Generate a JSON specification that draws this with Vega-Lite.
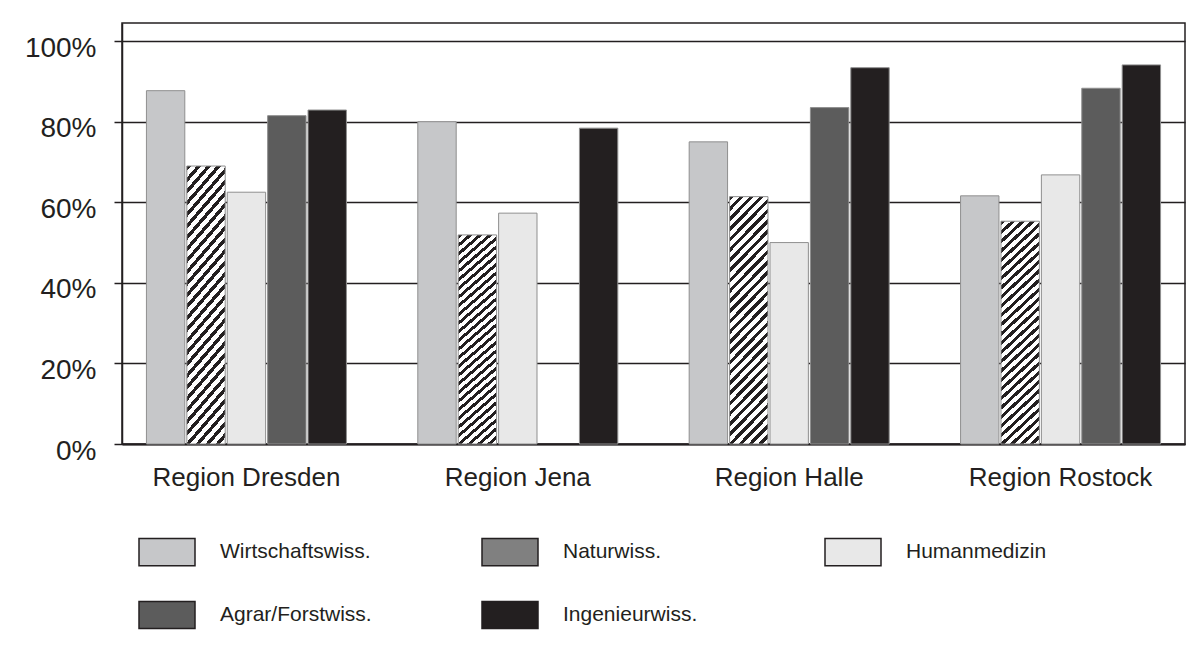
{
  "$schema": "https://vega.github.io/schema/vega-lite/v6.json",
  "width": 1063,
  "height": 421,
  "autosize": {"type": "none"},
  "padding": {"left": 122, "top": 23, "right": 19, "bottom": 213},
  "background": "#ffffff",
  "config": {
    "view": {"stroke": "#231f20", "strokeWidth": 1.5},
    "font": "Liberation Sans",
    "text": {"color": "#231f20"}
  },
  "data": {
    "values": [
      {"region": "Region Dresden", "fach": "Wirtschaftswiss.", "value": 87.7},
      {"region": "Region Dresden", "fach": "Naturwiss.", "value": 69.0},
      {"region": "Region Dresden", "fach": "Humanmedizin", "value": 62.5},
      {"region": "Region Dresden", "fach": "Agrar/Forstwiss.", "value": 81.5},
      {"region": "Region Dresden", "fach": "Ingenieurwiss.", "value": 82.9},
      {"region": "Region Jena", "fach": "Wirtschaftswiss.", "value": 80.0},
      {"region": "Region Jena", "fach": "Naturwiss.", "value": 51.9},
      {"region": "Region Jena", "fach": "Humanmedizin", "value": 57.3},
      {"region": "Region Jena", "fach": "Ingenieurwiss.", "value": 78.4},
      {"region": "Region Halle", "fach": "Wirtschaftswiss.", "value": 75.0},
      {"region": "Region Halle", "fach": "Naturwiss.", "value": 61.4},
      {"region": "Region Halle", "fach": "Humanmedizin", "value": 50.0},
      {"region": "Region Halle", "fach": "Agrar/Forstwiss.", "value": 83.5},
      {"region": "Region Halle", "fach": "Ingenieurwiss.", "value": 93.4},
      {"region": "Region Rostock", "fach": "Wirtschaftswiss.", "value": 61.6},
      {"region": "Region Rostock", "fach": "Naturwiss.", "value": 55.3},
      {"region": "Region Rostock", "fach": "Humanmedizin", "value": 66.8},
      {"region": "Region Rostock", "fach": "Agrar/Forstwiss.", "value": 88.3},
      {"region": "Region Rostock", "fach": "Ingenieurwiss.", "value": 94.1}
    ]
  },
  "mark": {"type": "bar", "stroke": "#8f8f8f", "strokeWidth": 1},
  "encoding": {
    "x": {
      "field": "region",
      "type": "nominal",
      "sort": ["Region Dresden", "Region Jena", "Region Halle", "Region Rostock"],
      "scale": {"paddingInner": 0.263, "paddingOuter": 0.09},
      "axis": {
        "title": null,
        "labelAngle": 0,
        "labelFontSize": 26,
        "labelLimit": 400,
        "labelColor": "#231f20",
        "labelPadding": 20,
        "ticks": false,
        "tickSize": 0,
        "domainColor": "#231f20",
        "domainWidth": 2
      }
    },
    "xOffset": {
      "field": "fach",
      "type": "nominal",
      "sort": ["Wirtschaftswiss.", "Naturwiss.", "Humanmedizin", "Agrar/Forstwiss.", "Ingenieurwiss."],
      "scale": {"paddingInner": 0.05, "paddingOuter": 0}
    },
    "y": {
      "field": "value",
      "type": "quantitative",
      "scale": {"domain": [0, 104.5], "nice": false},
      "axis": {
        "title": null,
        "values": [0, 20, 40, 60, 80, 100],
        "labelExpr": "datum.value + '%'",
        "labelFontSize": 28,
        "labelColor": "#231f20",
        "labelPadding": 18,
        "labelOffset": 7,
        "tickSize": 8,
        "tickColor": "#231f20",
        "tickWidth": 1.5,
        "gridColor": "#231f20",
        "gridWidth": 1.5,
        "gridOpacity": 1,
        "domainColor": "#231f20",
        "domainWidth": 1.5
      }
    },
    "fill": {
      "field": "fach",
      "type": "nominal",
      "scale": {
        "domain": ["Wirtschaftswiss.", "Naturwiss.", "Humanmedizin", "Agrar/Forstwiss.", "Ingenieurwiss."],
        "range": ["#c6c7c9", "#808080", "#e8e8e8", "#5c5c5c", "#231f20"]
      },
      "condition": {
        "test": "datum.fach === 'Naturwiss.'",
        "value": {
          "gradient": "linear",
          "x1": 0, "y1": 0, "x2": 0.181, "y2": 1.131,
          "stops": [
            {"offset": 0.0000, "color": "#231f20"}, {"offset": 0.0161, "color": "#231f20"}, {"offset": 0.0161, "color": "#ffffff"}, {"offset": 0.0357, "color": "#ffffff"},
            {"offset": 0.0357, "color": "#231f20"}, {"offset": 0.0518, "color": "#231f20"}, {"offset": 0.0518, "color": "#ffffff"}, {"offset": 0.0714, "color": "#ffffff"},
            {"offset": 0.0714, "color": "#231f20"}, {"offset": 0.0875, "color": "#231f20"}, {"offset": 0.0875, "color": "#ffffff"}, {"offset": 0.1071, "color": "#ffffff"},
            {"offset": 0.1071, "color": "#231f20"}, {"offset": 0.1232, "color": "#231f20"}, {"offset": 0.1232, "color": "#ffffff"}, {"offset": 0.1429, "color": "#ffffff"},
            {"offset": 0.1429, "color": "#231f20"}, {"offset": 0.1590, "color": "#231f20"}, {"offset": 0.1590, "color": "#ffffff"}, {"offset": 0.1786, "color": "#ffffff"},
            {"offset": 0.1786, "color": "#231f20"}, {"offset": 0.1947, "color": "#231f20"}, {"offset": 0.1947, "color": "#ffffff"}, {"offset": 0.2143, "color": "#ffffff"},
            {"offset": 0.2143, "color": "#231f20"}, {"offset": 0.2304, "color": "#231f20"}, {"offset": 0.2304, "color": "#ffffff"}, {"offset": 0.2500, "color": "#ffffff"},
            {"offset": 0.2500, "color": "#231f20"}, {"offset": 0.2661, "color": "#231f20"}, {"offset": 0.2661, "color": "#ffffff"}, {"offset": 0.2857, "color": "#ffffff"},
            {"offset": 0.2857, "color": "#231f20"}, {"offset": 0.3018, "color": "#231f20"}, {"offset": 0.3018, "color": "#ffffff"}, {"offset": 0.3214, "color": "#ffffff"},
            {"offset": 0.3214, "color": "#231f20"}, {"offset": 0.3375, "color": "#231f20"}, {"offset": 0.3375, "color": "#ffffff"}, {"offset": 0.3571, "color": "#ffffff"},
            {"offset": 0.3571, "color": "#231f20"}, {"offset": 0.3732, "color": "#231f20"}, {"offset": 0.3732, "color": "#ffffff"}, {"offset": 0.3929, "color": "#ffffff"},
            {"offset": 0.3929, "color": "#231f20"}, {"offset": 0.4090, "color": "#231f20"}, {"offset": 0.4090, "color": "#ffffff"}, {"offset": 0.4286, "color": "#ffffff"},
            {"offset": 0.4286, "color": "#231f20"}, {"offset": 0.4447, "color": "#231f20"}, {"offset": 0.4447, "color": "#ffffff"}, {"offset": 0.4643, "color": "#ffffff"},
            {"offset": 0.4643, "color": "#231f20"}, {"offset": 0.4804, "color": "#231f20"}, {"offset": 0.4804, "color": "#ffffff"}, {"offset": 0.5000, "color": "#ffffff"},
            {"offset": 0.5000, "color": "#231f20"}, {"offset": 0.5161, "color": "#231f20"}, {"offset": 0.5161, "color": "#ffffff"}, {"offset": 0.5357, "color": "#ffffff"},
            {"offset": 0.5357, "color": "#231f20"}, {"offset": 0.5518, "color": "#231f20"}, {"offset": 0.5518, "color": "#ffffff"}, {"offset": 0.5714, "color": "#ffffff"},
            {"offset": 0.5714, "color": "#231f20"}, {"offset": 0.5875, "color": "#231f20"}, {"offset": 0.5875, "color": "#ffffff"}, {"offset": 0.6071, "color": "#ffffff"},
            {"offset": 0.6071, "color": "#231f20"}, {"offset": 0.6232, "color": "#231f20"}, {"offset": 0.6232, "color": "#ffffff"}, {"offset": 0.6429, "color": "#ffffff"},
            {"offset": 0.6429, "color": "#231f20"}, {"offset": 0.6590, "color": "#231f20"}, {"offset": 0.6590, "color": "#ffffff"}, {"offset": 0.6786, "color": "#ffffff"},
            {"offset": 0.6786, "color": "#231f20"}, {"offset": 0.6947, "color": "#231f20"}, {"offset": 0.6947, "color": "#ffffff"}, {"offset": 0.7143, "color": "#ffffff"},
            {"offset": 0.7143, "color": "#231f20"}, {"offset": 0.7304, "color": "#231f20"}, {"offset": 0.7304, "color": "#ffffff"}, {"offset": 0.7500, "color": "#ffffff"},
            {"offset": 0.7500, "color": "#231f20"}, {"offset": 0.7661, "color": "#231f20"}, {"offset": 0.7661, "color": "#ffffff"}, {"offset": 0.7857, "color": "#ffffff"},
            {"offset": 0.7857, "color": "#231f20"}, {"offset": 0.8018, "color": "#231f20"}, {"offset": 0.8018, "color": "#ffffff"}, {"offset": 0.8214, "color": "#ffffff"},
            {"offset": 0.8214, "color": "#231f20"}, {"offset": 0.8375, "color": "#231f20"}, {"offset": 0.8375, "color": "#ffffff"}, {"offset": 0.8571, "color": "#ffffff"},
            {"offset": 0.8571, "color": "#231f20"}, {"offset": 0.8732, "color": "#231f20"}, {"offset": 0.8732, "color": "#ffffff"}, {"offset": 0.8929, "color": "#ffffff"},
            {"offset": 0.8929, "color": "#231f20"}, {"offset": 0.9090, "color": "#231f20"}, {"offset": 0.9090, "color": "#ffffff"}, {"offset": 0.9286, "color": "#ffffff"},
            {"offset": 0.9286, "color": "#231f20"}, {"offset": 0.9447, "color": "#231f20"}, {"offset": 0.9447, "color": "#ffffff"}, {"offset": 0.9643, "color": "#ffffff"},
            {"offset": 0.9643, "color": "#231f20"}, {"offset": 0.9804, "color": "#231f20"}, {"offset": 0.9804, "color": "#ffffff"}, {"offset": 1.0000, "color": "#ffffff"}
          ]
        }
      },
      "legend": {
        "title": null,
        "orient": "none",
        "direction": "horizontal",
        "legendX": 16,
        "legendY": 500,
        "columns": 3,
        "gridAlign": "all",
        "columnPadding": 107,
        "rowPadding": 17,
        "symbolType": "M-1,-0.486L1,-0.486L1,0.486L-1,0.486Z",
        "symbolSize": 3136,
        "symbolStrokeColor": "#231f20",
        "symbolStrokeWidth": 1.5,
        "labelFont": "Liberation Sans",
        "labelFontSize": 21,
        "labelColor": "#231f20",
        "labelOffset": 24,
        "labelLimit": 400,
        "encoding": {
          "symbols": {
            "stroke": {"value": "#231f20"},
            "strokeWidth": {"value": 1.5}
          }
        }
      }
    }
  }
}
